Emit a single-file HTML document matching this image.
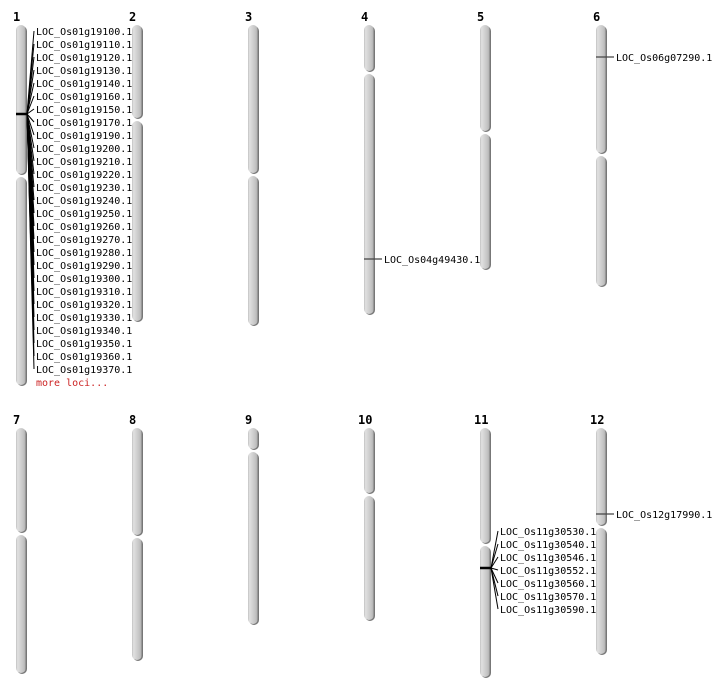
<!DOCTYPE html>
<html><head><meta charset="utf-8"><style>
html,body{margin:0;padding:0;background:#fff;}
svg{display:block;}
text{font-family:"DejaVu Sans Mono","Liberation Mono",monospace;font-size:10px;}
.n{font-family:"DejaVu Sans Mono","Liberation Mono",monospace;font-weight:bold;font-size:12px;}
</style></head><body>
<svg id="s" width="712" height="700" xmlns="http://www.w3.org/2000/svg">
<defs>
<linearGradient id="g" x1="0" x2="1" y1="0" y2="0">
<stop offset="0" stop-color="#c0c0c0"/>
<stop offset="0.15" stop-color="#e0e0e0"/>
<stop offset="0.5" stop-color="#d0d0d0"/>
<stop offset="0.85" stop-color="#bdbdbd"/>
<stop offset="1" stop-color="#858585"/>
</linearGradient>
</defs>
</svg>
<script>
var s=document.getElementById('s'),NS='http://www.w3.org/2000/svg';
function el(t,a,txt){var e=document.createElementNS(NS,t);for(var k in a)e.setAttribute(k,a[k]);if(txt)e.textContent=txt;s.appendChild(e);return e;}
var ch=[[1,16,25,386,176],[2,132,25,322,120],[3,248,25,326,175],[4,364,25,315,73],[5,480,25,270,133],[6,596,25,287,155],
[7,16,428,674,534],[8,132,428,661,537],[9,248,428,625,451],[10,364,428,621,495],[11,480,428,678,545],[12,596,428,655,527]];
ch.forEach(function(c){var x=c[1],t=c[2],b=c[3],m=c[4];
el('text',{x:c[0]>9?x-6:x-3,y:t-4,'class':'n'},String(c[0]));
el('rect',{x:x+1,y:t+1,width:10,height:m-t-2,rx:5,fill:'#777'});
el('rect',{x:x+1,y:m+2,width:10,height:b-m-2,rx:5,fill:'#777'});
el('rect',{x:x,y:t,width:10,height:m-t-2,rx:5,fill:'url(#g)'});
el('rect',{x:x,y:m+1,width:10,height:b-m-2,rx:5,fill:'url(#g)'});
});
var l1=['19100','19110','19120','19130','19140','19160','19150','19170','19190','19200','19210','19220','19230','19240','19250','19260','19270','19280','19290','19300','19310','19320','19330','19340','19350','19360','19370'];
el('line',{x1:16,y1:114,x2:27,y2:114,stroke:'#000','stroke-width':2.5});
l1.forEach(function(v,i){var y=31+i*13;
el('line',{x1:27,y1:114,x2:34,y2:y,stroke:'#000','stroke-width':1});
el('text',{x:36,y:y+4},'LOC_Os01g'+v+'.1');});
el('text',{x:36,y:386,fill:'#cc2222'},'more loci...');
var l11=['30530','30540','30546','30552','30560','30570','30590'];
el('line',{x1:480,y1:568,x2:491,y2:568,stroke:'#000','stroke-width':2.5});
l11.forEach(function(v,i){var y=531+i*13;
el('line',{x1:491,y1:568,x2:498,y2:y,stroke:'#000','stroke-width':1});
el('text',{x:500,y:y+4},'LOC_Os11g'+v+'.1');});
[[364,259,'LOC_Os04g49430.1'],[596,57,'LOC_Os06g07290.1'],[596,514,'LOC_Os12g17990.1']].forEach(function(a){
el('line',{x1:a[0],y1:a[1],x2:a[0]+18,y2:a[1],stroke:'#444','stroke-width':1.2});
el('text',{x:a[0]+20,y:a[1]+4},a[2]);});
</script>
</body></html>
